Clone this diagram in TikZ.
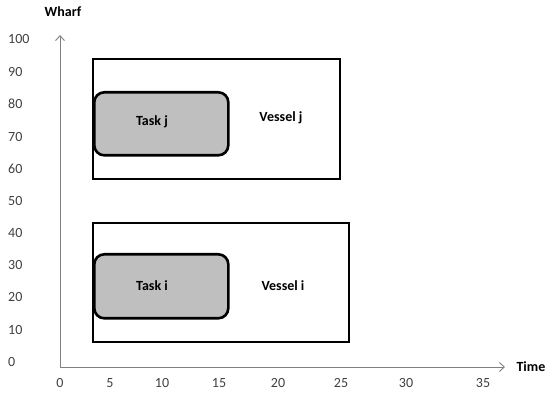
\documentclass[tikz,border=0pt]{standalone}
\usepackage{fontspec}
\setmainfont{Carlito}
\usetikzlibrary{arrows.meta}
\definecolor{axisgray}{HTML}{808080}
\definecolor{taskfill}{HTML}{BFBFBF}
\definecolor{labelink}{HTML}{404040}
\tikzset{
  axisline/.style={draw=axisgray, line width=0.9pt, -{Straight Barb[length=5pt,width=9pt]}},
  vesselbox/.style={draw=black, line width=2.3pt, fill=white},
  taskbox/.style={draw=black, line width=2.6pt, fill=taskfill, rounded corners=10pt},
  boxlabel/.style={font=\fontsize{14}{16}\selectfont\bfseries, text=black},
  ticklabel/.style={font=\fontsize{14}{16}\selectfont, text=labelink, inner sep=0pt},
  axistitle/.style={font=\fontsize{14}{16}\selectfont\bfseries, text=black},
}
\begin{document}
\begin{tikzpicture}[x=1pt, y=-1pt]
  \useasboundingbox (0,0) rectangle (547,398);

  % axes
  \coordinate (origin) at (60,367);
  \coordinate (ytip) at (60,35);
  \coordinate (xtip) at (505,367);
  \draw[axisline] (origin) -- (ytip);
  \draw[axisline] (origin) -- (xtip);
  \node[axistitle] (wharf) at (63,12) {Wharf};
  \node[axistitle, anchor=west] (time) at (513,367) {Time};

  % wharf ticks
  \foreach \v/\y in {100/39, 90/72, 80/104, 70/137, 60/169, 50/201, 40/233, 30/265, 20/297, 10/330, 0/362}
    \node[ticklabel, anchor=west] (w\v) at (8,\y) {\v};

  % time ticks
  \foreach \v/\x in {0/60, 5/110, 10/162, 15/219, 20/278, 25/341, 30/406, 35/483}
    \node[ticklabel] (t\v) at (\x,383) {\v};

  % vessel j with its task
  \node[vesselbox, minimum width=247pt, minimum height=120pt, anchor=north west, inner sep=0pt] (vesselj) at (92,58) {};
  \node[taskbox, minimum width=134pt, minimum height=63pt, anchor=north west, inner sep=0pt] (taskj) at (93,91) {};
  \node[boxlabel] (taskjlabel) at (152,122) {Task j};
  \node[boxlabel] (vesseljlabel) at (281,118) {Vessel j};

  % vessel i with its task
  \node[vesselbox, minimum width=256pt, minimum height=119pt, anchor=north west, inner sep=0pt] (vesseli) at (92,222) {};
  \node[taskbox, minimum width=134pt, minimum height=64pt, anchor=north west, inner sep=0pt] (taski) at (93,253) {};
  \node[boxlabel] (taskilabel) at (152,286) {Task i};
  \node[boxlabel] (vesselilabel) at (283,286) {Vessel i};
\end{tikzpicture}
\end{document}
